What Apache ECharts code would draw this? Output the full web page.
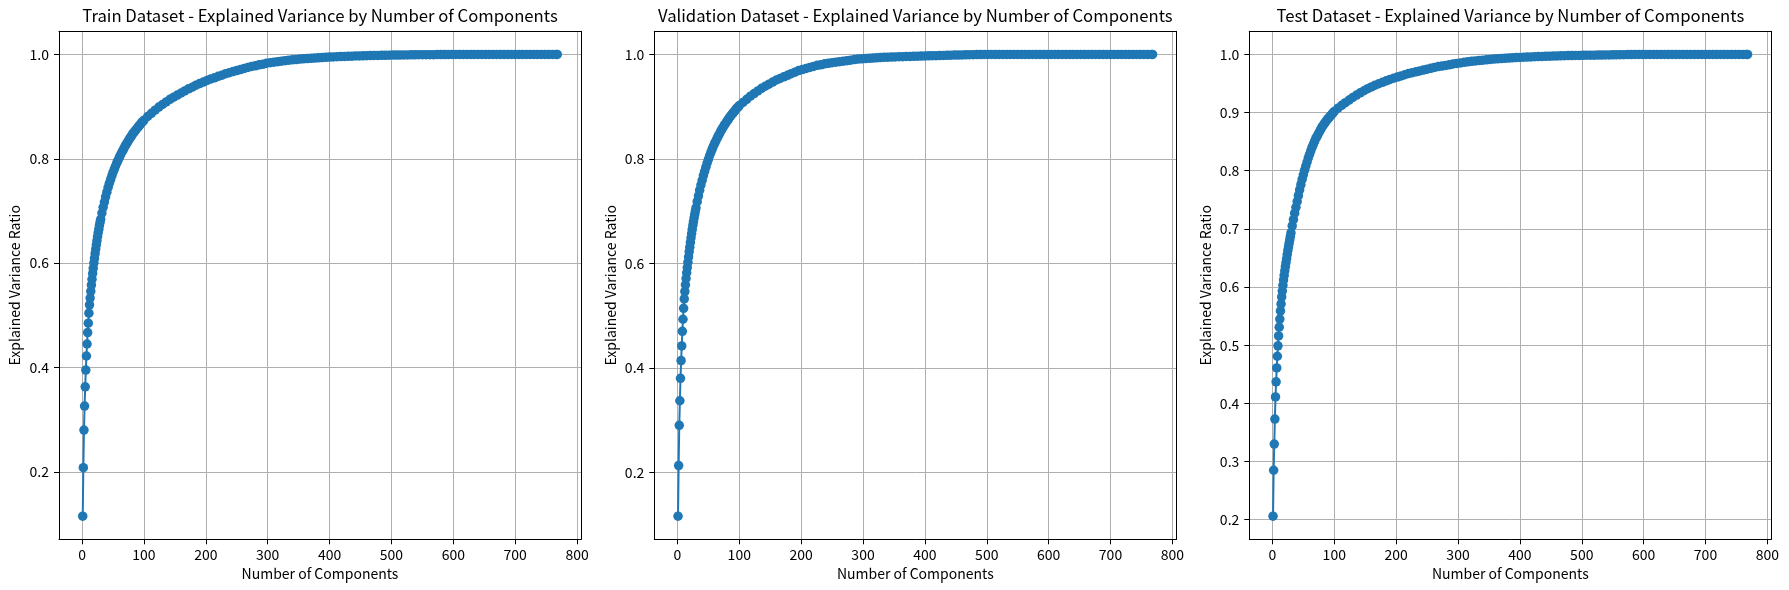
<!DOCTYPE html>
<html>
<head>
<meta charset="utf-8">
<script src="https://cdn.jsdelivr.net/npm/echarts@6/dist/echarts.min.js"></script>
<style>
  html, body { margin: 0; padding: 0; background: #fff; }
  #main { width: 1789px; height: 590px; }
</style>
</head>
<body>
<div id="main"></div>
<script>
// number of PCA components on the x axis
var components = [
  1,2,3,4,5,6,7,8,9,10,11,12,13,14,15,16,17,18,19,20,21,22,23,24,25,26,27,28,29,30,
  32,34,36,38,40,42,44,46,48,50,52,54,56,58,60,62,64,66,68,70,
  72,74,76,78,80,82,84,86,88,90,92,94,96,98,100,
  106,112,118,124,130,136,142,148,154,160,
  166,172,178,184,190,196,202,208,214,220,
  226,232,238,244,250,256,262,268,274,280,
  286,292,298,304,310,316,322,328,334,340,
  346,352,358,364,370,376,382,388,394,400,
  406,412,418,424,430,436,442,448,454,460,
  466,472,478,484,490,496,502,508,514,520,
  526,532,538,544,550,556,562,568,574,580,
  586,592,598,604,610,616,622,628,634,640,
  646,652,658,664,670,676,682,688,694,700,
  706,712,718,724,730,736,742,748,754,760,
  766,768
];

// cumulative explained variance ratio
var trainRatio = [
  0.115,0.208,0.280,0.326,0.363,0.395,0.422,0.445,0.467,0.485,
  0.504,0.520,0.533,0.546,0.558,0.569,0.580,0.590,0.600,0.609,
  0.618,0.627,0.635,0.643,0.651,0.658,0.665,0.672,0.678,0.684,
  0.696,0.707,0.717,0.727,0.736,0.745,0.753,0.760,0.767,0.774,
  0.780,0.786,0.792,0.797,0.802,0.807,0.812,0.816,0.821,0.825,
  0.829,0.833,0.837,0.841,0.844,0.848,0.851,0.854,0.857,0.860,
  0.863,0.866,0.869,0.871,0.874,
  0.881,0.887,0.893,0.899,0.904,0.909,0.914,0.918,0.922,0.926,
  0.930,0.934,0.937,0.941,0.944,0.947,0.950,0.953,0.955,0.958,
  0.960,0.963,0.965,0.967,0.969,0.971,0.973,0.975,0.977,0.978,
  0.980,0.981,0.983,0.984,0.985,0.986,0.987,0.988,0.989,0.9895,
  0.990,0.991,0.9915,0.992,0.9925,0.993,0.9935,0.994,0.9944,0.9948,
  0.9952,0.9955,0.9958,0.9961,0.9964,0.9966,0.9969,0.9971,0.9973,0.9975,
  0.9977,0.9979,0.998,0.9982,0.9983,0.9985,0.9986,0.9987,0.9988,0.9989,
  0.999,0.9991,0.9992,0.9993,0.9993,0.9994,0.9995,0.9995,0.9996,0.9996,
  0.9997,0.9997,0.9998,0.9998,0.9998,0.9999,0.9999,0.9999,0.9999,1.0,
  1.0,1.0,1.0,1.0,1.0,1.0,1.0,1.0,1.0,1.0,
  1.0,1.0,1.0,1.0,1.0,1.0,1.0,1.0,1.0,1.0,
  1.0,1.0
];

var validRatio = [
  0.116,0.213,0.290,0.337,0.380,0.414,0.442,0.470,0.493,0.514,
  0.532,0.546,0.559,0.571,0.582,0.592,0.602,0.612,0.622,0.631,
  0.640,0.649,0.657,0.665,0.673,0.680,0.687,0.694,0.700,0.706,
  0.718,0.729,0.740,0.750,0.759,0.768,0.776,0.784,0.792,0.799,
  0.806,0.812,0.818,0.824,0.829,0.834,0.839,0.844,0.848,0.853,
  0.857,0.861,0.865,0.868,0.872,0.875,0.879,0.882,0.885,0.888,
  0.891,0.894,0.897,0.899,0.902,
  0.908,0.914,0.920,0.925,0.930,0.935,0.939,0.943,0.947,0.951,
  0.954,0.957,0.960,0.963,0.966,0.969,0.971,0.973,0.975,0.977,
  0.979,0.980,0.982,0.983,0.984,0.985,0.986,0.987,0.988,0.989,
  0.990,0.991,0.9915,0.992,0.9925,0.993,0.9935,0.994,0.9943,0.9946,
  0.9949,0.9952,0.9955,0.9957,0.996,0.9962,0.9964,0.9966,0.9968,0.997,
  0.9972,0.9974,0.9976,0.9978,0.998,0.9982,0.9984,0.9986,0.9988,0.999,
  0.9991,0.9993,0.9994,0.9996,0.9997,0.9998,0.9999,0.9999,1.0,1.0,
  1.0,1.0,1.0,1.0,1.0,1.0,1.0,1.0,1.0,1.0,
  1.0,1.0,1.0,1.0,1.0,1.0,1.0,1.0,1.0,1.0,
  1.0,1.0,1.0,1.0,1.0,1.0,1.0,1.0,1.0,1.0,
  1.0,1.0,1.0,1.0,1.0,1.0,1.0,1.0,1.0,1.0,
  1.0,1.0
];

var testRatio = [
  0.206,0.285,0.330,0.373,0.411,0.437,0.461,0.481,0.499,0.516,
  0.531,0.545,0.559,0.571,0.583,0.593,0.603,0.612,0.620,0.628,
  0.635,0.642,0.649,0.656,0.663,0.669,0.675,0.681,0.687,0.693,
  0.705,0.716,0.727,0.737,0.747,0.757,0.767,0.776,0.785,0.793,
  0.801,0.808,0.815,0.822,0.828,0.834,0.840,0.845,0.850,0.855,
  0.859,0.863,0.867,0.871,0.875,0.878,0.881,0.884,0.887,0.8895,
  0.892,0.8945,0.897,0.8995,0.902,
  0.9075,0.9125,0.917,0.9215,0.926,0.930,0.934,0.9375,0.941,0.944,
  0.947,0.9495,0.952,0.9545,0.957,0.959,0.961,0.963,0.965,0.967,
  0.9685,0.970,0.9715,0.973,0.9745,0.976,0.9775,0.979,0.980,0.981,
  0.982,0.9835,0.9845,0.9854,0.9863,0.9872,0.988,0.9887,0.9894,0.9901,
  0.9907,0.9913,0.9919,0.9924,0.9929,0.9933,0.9937,0.9941,0.9945,0.9948,
  0.9951,0.9954,0.9957,0.996,0.9962,0.9965,0.9967,0.9969,0.9971,0.9973,
  0.9975,0.9977,0.9979,0.998,0.9982,0.9983,0.9984,0.9985,0.9986,0.9987,
  0.9988,0.9989,0.999,0.9991,0.9992,0.9993,0.9994,0.9995,0.9996,0.9997,
  0.9998,0.9999,1.0,1.0,1.0,1.0,1.0,1.0,1.0,1.0,
  1.0,1.0,1.0,1.0,1.0,1.0,1.0,1.0,1.0,1.0,
  1.0,1.0,1.0,1.0,1.0,1.0,1.0,1.0,1.0,1.0,
  1.0,1.0
];

var titles = [
  "Train Dataset - Explained Variance by Number of Components",
  "Validation Dataset - Explained Variance by Number of Components",
  "Test Dataset - Explained Variance by Number of Components"
];
var yRanges = [[0.07075, 1.04425], [0.0718, 1.0442], [0.1663, 1.0397]];
var yStep = [0.2, 0.2, 0.1];
var xRange = [-37.35, 806.35];

var FONT = "Noto Sans CJK KR";
var plotLeft = [59, 654.3, 1249.3];
var plotTop = 31.3, plotW = 522, plotH = 508;
var allRatios = [trainRatio, validRatio, testRatio];

var chart = echarts.init(document.getElementById("main"), null, {renderer: "canvas"});

var option = {
  animation: false,
  backgroundColor: "#fff",
  textStyle: {fontFamily: FONT},
  title: [],
  grid: [],
  xAxis: [],
  yAxis: [],
  series: []
};

var blackLine = {show: true, onZero: false, lineStyle: {color: "#000", width: 1}};

for (var i = 0; i < 3; i++) {
  option.title.push({
    text: titles[i],
    left: plotLeft[i] + plotW / 2,
    top: 7,
    textAlign: "center",
    padding: 0,
    textStyle: {fontFamily: FONT, fontSize: 16.7, fontWeight: "normal", color: "#000"}
  });
  option.grid.push({
    left: plotLeft[i], top: plotTop, width: plotW, height: plotH,
    show: false
  });
  option.xAxis.push({
    type: "value", gridIndex: i, position: "bottom",
    min: xRange[0], max: xRange[1],
    minInterval: 100, maxInterval: 100,
    name: "Number of Components",
    nameLocation: "middle", nameGap: 26,
    nameTextStyle: {fontFamily: FONT, fontSize: 14, color: "#000"},
    axisLine: blackLine,
    axisTick: {show: true, length: 5, lineStyle: {color: "#000", width: 1}},
    axisLabel: {fontFamily: FONT, fontSize: 14, color: "#000", margin: 8,
                showMinLabel: false, showMaxLabel: false},
    splitLine: {show: true, lineStyle: {color: "#b0b0b0", width: 1}}
  });
  option.yAxis.push({
    type: "value", gridIndex: i, position: "left",
    min: yRanges[i][0], max: yRanges[i][1],
    minInterval: yStep[i], maxInterval: yStep[i],
    name: "Explained Variance Ratio",
    nameLocation: "middle", nameGap: 37,
    nameTextStyle: {fontFamily: FONT, fontSize: 14, color: "#000"},
    axisLine: blackLine,
    axisTick: {show: true, length: 5, lineStyle: {color: "#000", width: 1}},
    axisLabel: {fontFamily: FONT, fontSize: 14, color: "#000", margin: 10,
                showMinLabel: false, showMaxLabel: false,
                formatter: function (v) { return v.toFixed(1); }},
    splitLine: {show: true, lineStyle: {color: "#b0b0b0", width: 1}}
  });
  var ratio = allRatios[i];
  option.series.push({
    type: "line",
    xAxisIndex: i, yAxisIndex: i,
    data: components.map(function (c, k) { return [c, ratio[k]]; }),
    symbol: "circle", symbolSize: 9.5, showAllSymbol: true,
    itemStyle: {color: "#1f77b4", borderWidth: 0},
    lineStyle: {color: "#1f77b4", width: 2},
    emphasis: {disabled: true},
    z: 5
  });
}

// top and right spines of each panel
for (var j = 0; j < 3; j++) {
  option.xAxis.push({
    type: "value", gridIndex: j, position: "top",
    min: xRange[0], max: xRange[1],
    axisLine: blackLine, axisTick: {show: false},
    axisLabel: {show: false}, splitLine: {show: false}
  });
  option.yAxis.push({
    type: "value", gridIndex: j, position: "right",
    min: yRanges[j][0], max: yRanges[j][1],
    axisLine: blackLine, axisTick: {show: false},
    axisLabel: {show: false}, splitLine: {show: false}
  });
}

chart.setOption(option);
</script>
</body>
</html>
